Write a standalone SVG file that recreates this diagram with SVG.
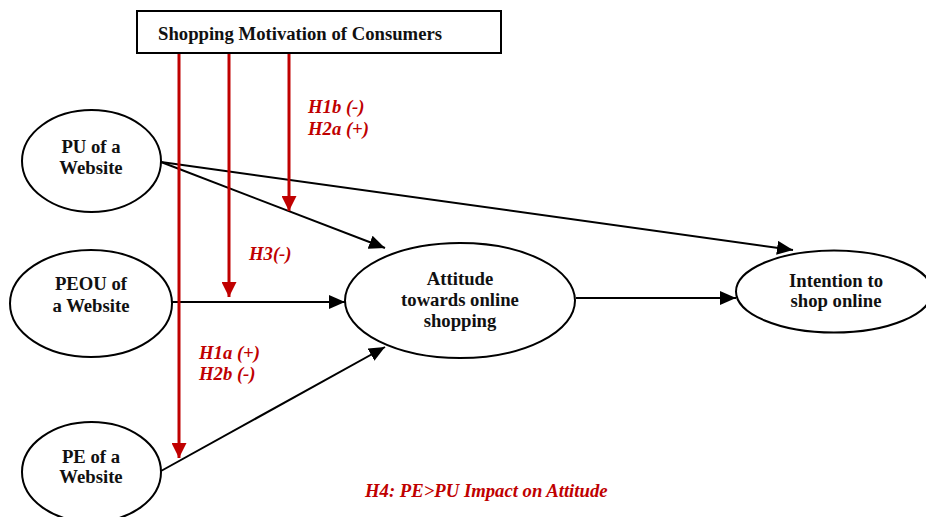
<svg xmlns="http://www.w3.org/2000/svg" width="926" height="517" viewBox="0 0 926 517">
<style>
.node{fill:#fff;stroke:#000;stroke-width:2}
.lbl{font-family:"Liberation Serif","Times New Roman",serif;font-weight:bold;font-size:18.7px;fill:#111;text-anchor:middle}
.hyp{font-family:"Liberation Serif","Times New Roman",serif;font-weight:bold;font-style:italic;font-size:18.7px;fill:#c00000}
.blk{stroke:#000;stroke-width:2;fill:none}
.red{stroke:#c00000;stroke-width:3;fill:none}
</style>
<defs>
<marker id="ab" markerUnits="userSpaceOnUse" markerWidth="16" markerHeight="14" refX="16" refY="7" orient="auto">
<path d="M0,0 L16,7 L0,14 z" fill="#000"/>
</marker>
<marker id="ar" markerUnits="userSpaceOnUse" markerWidth="15" markerHeight="15" refX="15" refY="7.5" orient="auto">
<path d="M0,0 L15,7.5 L0,15 z" fill="#c00000"/>
</marker>
</defs>
<g id="connectors">
<line class="blk" x1="161" y1="162" x2="793" y2="250" marker-end="url(#ab)"/>
<line class="blk" x1="161" y1="162" x2="385" y2="248" marker-end="url(#ab)"/>
<line class="blk" x1="172" y1="302" x2="345" y2="302" marker-end="url(#ab)"/>
<line class="blk" x1="161" y1="471" x2="385" y2="347" marker-end="url(#ab)"/>
<line class="blk" x1="576" y1="298" x2="736" y2="298" marker-end="url(#ab)"/>
<line class="red" x1="179" y1="53" x2="179" y2="458" marker-end="url(#ar)"/>
<line class="red" x1="229" y1="53" x2="229" y2="297" marker-end="url(#ar)"/>
<line class="red" x1="289" y1="53" x2="289" y2="211" marker-end="url(#ar)"/>
</g>
<g id="motivation">
<rect class="node" x="137" y="11" width="364" height="42"/>
<text class="lbl" x="158" y="40" style="text-anchor:start">Shopping Motivation of Consumers</text>
</g>
<g id="pu">
<ellipse class="node" cx="91.5" cy="161" rx="69.5" ry="51"/>
<text class="lbl" x="91" y="153">PU of a</text>
<text class="lbl" x="91" y="174">Website</text>
</g>
<g id="peou">
<ellipse class="node" cx="91" cy="303.5" rx="81" ry="53.5"/>
<text class="lbl" x="91" y="290">PEOU of</text>
<text class="lbl" x="91" y="312">a Website</text>
</g>
<g id="pe">
<ellipse class="node" cx="91.5" cy="472" rx="69.5" ry="50"/>
<text class="lbl" x="91" y="463">PE of a</text>
<text class="lbl" x="91" y="483">Website</text>
</g>
<g id="attitude">
<ellipse class="node" cx="460" cy="300.5" rx="115" ry="57.5"/>
<text class="lbl" x="460" y="285">Attitude</text>
<text class="lbl" x="460" y="306">towards online</text>
<text class="lbl" x="460" y="327">shopping</text>
</g>
<g id="intention">
<ellipse class="node" cx="834" cy="291.5" rx="98" ry="41"/>
<text class="lbl" x="836" y="287">Intention to</text>
<text class="lbl" x="836" y="307">shop online</text>
</g>
<g id="hypotheses">
<text class="hyp" x="308" y="113">H1b (-)</text>
<text class="hyp" x="308" y="135">H2a (+)</text>
<text class="hyp" x="249" y="260">H3(-)</text>
<text class="hyp" x="199" y="359">H1a (+)</text>
<text class="hyp" x="199" y="380">H2b (-)</text>
<text class="hyp" x="365" y="497">H4: PE&gt;PU Impact on Attitude</text>
</g>
</svg>
